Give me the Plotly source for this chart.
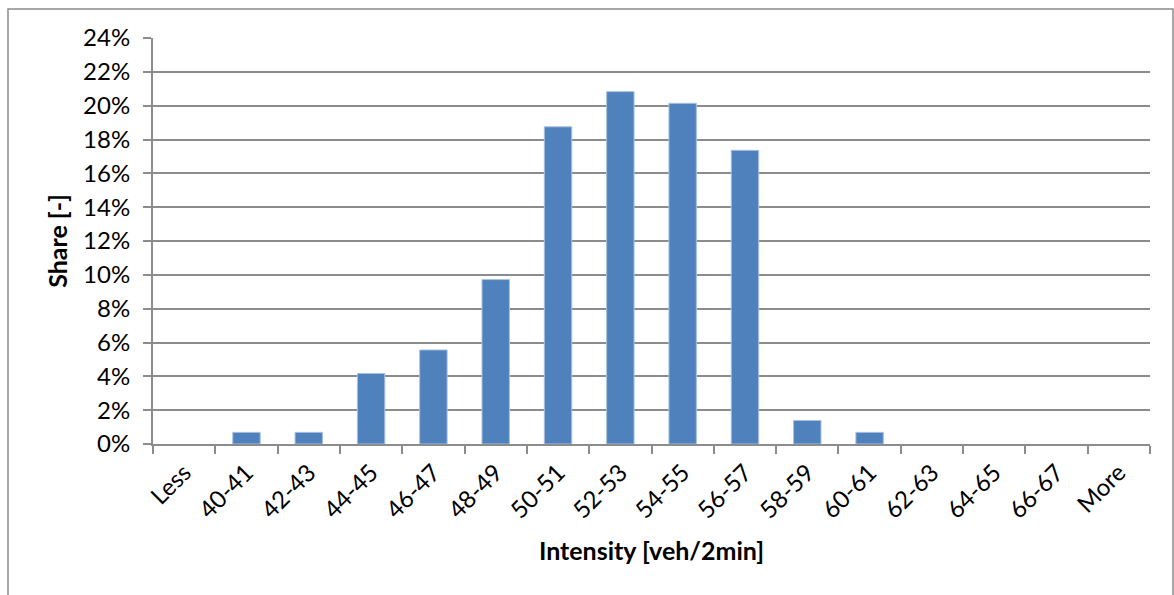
import plotly.graph_objects as go

categories = ["Less", "40-41", "42-43", "44-45", "46-47", "48-49", "50-51", "52-53",
              "54-55", "56-57", "58-59", "60-61", "62-63", "64-65", "66-67", "More"]
share_pct = [0, 0.69, 0.69, 4.17, 5.56, 9.72, 18.75, 20.83,
             20.14, 17.36, 1.39, 0.69, 0, 0, 0, 0]
y_ticks = list(range(0, 25, 2))
y_ticktext = [f"{v}%" for v in y_ticks]

W, H = 1174, 595
L, R, T, B = 153, 24, 38, 151
pw, ph = W - L - R, H - T - B

fig = go.Figure(go.Bar(
    x=categories, y=share_pct, width=0.44,
    marker=dict(color="#4F81BD",
                line=dict(color="#A7C0E0", width=[1 if v > 0 else 0 for v in share_pct])),
))

grid = "#8C8C8C"
fig.update_layout(
    width=W, height=H,
    margin=dict(l=L, r=R, t=T, b=B),
    paper_bgcolor="white", plot_bgcolor="white",
    font=dict(family="Lato, Carlito, Calibri, sans-serif", size=24, color="black"),
    showlegend=False,
    xaxis=dict(
        showline=True, linecolor=grid, linewidth=2,
        ticks="outside", ticklen=8, tickcolor=grid, tickwidth=2,
        tickson="boundaries", tickangle=-45, ticklabelstandoff=3,
        title=dict(text="<b>Intensity [veh/2min]</b>", font=dict(size=25), standoff=20),
    ),
    yaxis=dict(
        range=[0, 24], tickvals=y_ticks, ticktext=y_ticktext,
        showgrid=True, gridcolor=grid, gridwidth=2,
        showline=True, linecolor=grid, linewidth=2,
        ticks="outside", ticklen=8, tickcolor=grid, tickwidth=2,
        ticklabelstandoff=8,
        zeroline=False,
        title=dict(text="<b>Share [-]</b>", font=dict(size=25), standoff=8),
    ),
    shapes=[dict(
        type="rect", xref="paper", yref="paper",
        x0=(8 - L) / pw, x1=(1173 - L) / pw,
        y0=((H - B) - 610) / ph, y1=((H - B) - 9) / ph,
        line=dict(color="#8C8C8C", width=1.5), fillcolor="rgba(0,0,0,0)", layer="below",
    )],
)

fig.write_html("out.html")
